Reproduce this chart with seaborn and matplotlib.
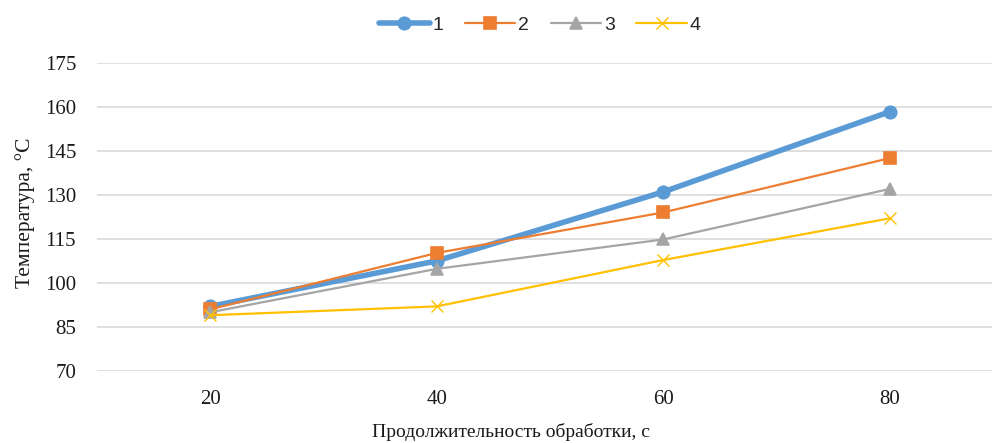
import matplotlib
matplotlib.use("Agg")
import matplotlib.pyplot as plt
import seaborn as sns
import pandas as pd

# Processing duration, s
durations = ["20", "40", "60", "80"]

# Temperature, °C for each mode
temp_1 = [92, 107.5, 131, 158.3]
temp_2 = [91, 110.2, 124, 142.5]
temp_3 = [90, 104.8, 114.8, 132]
temp_4 = [89, 92, 107.8, 122]

series_names = ["1", "2", "3", "4"]
y_ticks = [70, 85, 100, 115, 130, 145, 160, 175]

frames = []
for name, vals in zip(series_names, [temp_1, temp_2, temp_3, temp_4]):
    frames.append(pd.DataFrame({"t": durations, "T": vals, "s": name}))
df = pd.concat(frames, ignore_index=True)

sns.set_theme(style="white")
plt.rcParams["font.family"] = ["Liberation Serif", "DejaVu Serif"]

colors = {"1": "#5B9BD5", "2": "#ED7D31", "3": "#A5A5A5", "4": "#FFC000"}
markers = {"1": "o", "2": "s", "3": "^", "4": "x"}
widths = {"1": 4.0, "2": 1.6, "3": 1.6, "4": 1.6}
msizes = {"1": 9, "2": 8.5, "3": 8.5, "4": 9}

fig = plt.figure(figsize=(9.92, 4.43), dpi=100)
ax = fig.add_axes([97 / 992, 1 - 371 / 443, 906 / 992, (371 - 62.7) / 443])

for name in series_names:
    sub = df[df["s"] == name]
    sns.lineplot(
        data=sub, x="t", y="T", ax=ax, color=colors[name],
        linewidth=widths[name], marker=markers[name],
        markersize=msizes[name], markeredgewidth=1.2 if name != "4" else 1.0,
        markeredgecolor=colors[name], label=name, sort=False,
    )

ax.set_xlim(-0.5, 3.5)
ax.set_ylim(70, 175)
ax.set_yticks(y_ticks)
ax.yaxis.grid(True, color="#D9D9D9", linewidth=1.2)
ax.xaxis.grid(False)
for sp in ax.spines.values():
    sp.set_visible(False)
ax.tick_params(axis="both", length=0, labelsize=15, colors="#1a1a1a")
ax.tick_params(axis="y", pad=15)
ax.tick_params(axis="x", pad=14)
ax.set_xlabel("")
ax.set_ylabel("")

fig.text(25 / 992, 1 - 213 / 443, "Температура, °C", rotation=90,
         ha="center", va="center", fontsize=15.5, color="#1a1a1a")
fig.text(511 / 992, 1 - 432 / 443, "Продолжительность обработки, с",
         ha="center", va="center", fontsize=14, color="#1a1a1a")

handles, labels = ax.get_legend_handles_labels()
ax.legend(handles, labels, loc="center", bbox_to_anchor=(540 / 992, 1 - 25 / 443),
          bbox_transform=fig.transFigure, ncol=4, frameon=False,
          prop={"family": "Liberation Sans", "size": 14},
          handlelength=2.6, handletextpad=0.15, columnspacing=1.1)

fig.savefig("out.png", dpi=100)
